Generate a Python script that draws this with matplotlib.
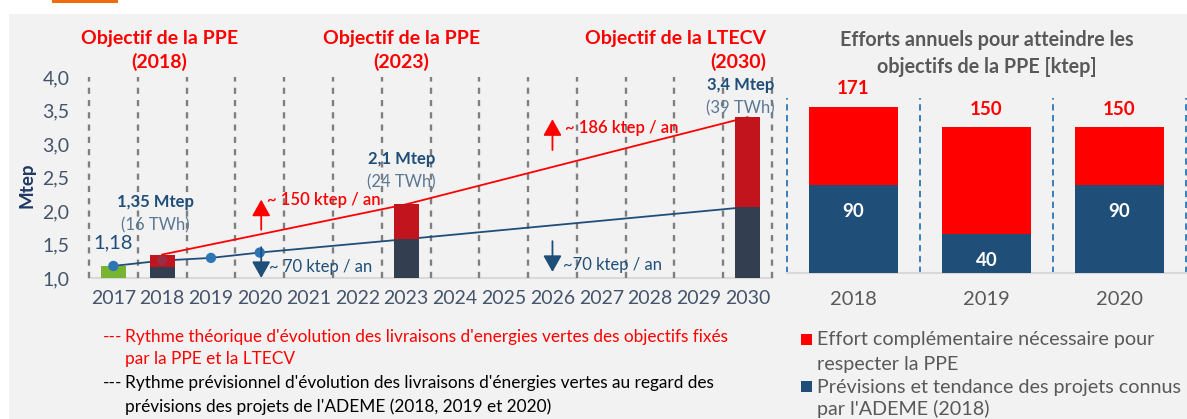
import matplotlib
matplotlib.use('Agg')
import matplotlib.pyplot as plt
from matplotlib.patches import Rectangle
import numpy as np

plt.rcParams['font.family'] = ['Lato', 'DejaVu Sans']

W, H = 1187, 419

# ---------------- Left chart data ----------------
years = list(range(2017, 2031))
year_labels = [str(y) for y in years]
y_ticks = [1.0, 1.5, 2.0, 2.5, 3.0, 3.5, 4.0]
y_tick_labels = ['1,0', '1,5', '2,0', '2,5', '3,0', '3,5', '4,0']

green_years = [2017]
green_tops = [1.18]
stack_years = [2018, 2023, 2030]
navy_tops = [1.16, 1.58, 2.06]
red_tops = [1.35, 2.10, 3.40]

ppe_years = [2018, 2023, 2030]
ppe_values = [1.35, 2.10, 3.40]
trend_years = [2017, 2018, 2019, 2020, 2023, 2030]
trend_values = [1.18, 1.26, 1.30, 1.38, 1.58, 2.06]
marker_years = [2017, 2018, 2019, 2020]
marker_values = [1.18, 1.26, 1.30, 1.38]

objective_titles = ['Objectif de la PPE', 'Objectif de la PPE', 'Objectif de la LTECV']
objective_years = ['(2018)', '(2023)', '(2030)']
mtep_labels = ['1,35 Mtep', '2,1 Mtep', '3,4 Mtep']
twh_labels = ['(16 TWh)', '(24 TWh)', '(39 TWh)']

# ---------------- Right chart data ----------------
effort_years = ['2018', '2019', '2020']
effort_known = [90, 40, 90]
effort_extra = [81, 110, 60]
effort_totals = [171, 150, 150]

# ---------------- Colors ----------------
RED = '#ff0000'
DARKRED = '#c1141d'
NAVY = '#333f50'
BLUE = '#1f4e79'
MBLUE = '#2e75b6'
GREEN = '#77b431'
TICK = '#44546a'
GRAY = '#595959'
LIGHTNAVY = '#5b7895'

fig = plt.figure(figsize=(W / 100, H / 100), dpi=100)
fig.patch.set_facecolor('white')

def fx(x):
    return x / W

def fy(y):
    return 1 - y / H

fig.patches.append(Rectangle((fx(9), 0), 1 - fx(9), fy(14), transform=fig.transFigure,
                             facecolor='#f2f2f2', edgecolor='none', zorder=-10))
fig.patches.append(Rectangle((fx(52), fy(3)), fx(66), 3 / H, transform=fig.transFigure,
                             facecolor='#f06b0c', edgecolor='none', zorder=-9))

# ---------------- Left axes ----------------
ax1 = fig.add_axes([fx(89), fy(278), fx(772 - 89), (278 - 77) / H])
ax1.set_facecolor('none')
ax1.set_xlim(2016.5, 2030.5)
ax1.set_ylim(1.0, 4.0)

for b in np.arange(2016.5, 2031, 1.0):
    ax1.axvline(b, color='#7f7f7f', lw=1.7, dashes=(2.6, 2.6), zorder=1, clip_on=False)

bw = 0.51
base = 1.0
ax1.bar(green_years, np.array(green_tops) - base, bottom=base, width=bw, color=GREEN, zorder=3)
ax1.bar(stack_years, np.array(navy_tops) - base, bottom=base, width=bw, color=NAVY, zorder=3)
ax1.bar(stack_years, np.array(red_tops) - np.array(navy_tops), bottom=navy_tops, width=bw,
        color=DARKRED, zorder=3)

ax1.plot(ppe_years, ppe_values, color=RED, lw=1.3, zorder=2)
ax1.plot(trend_years, trend_values, color=BLUE, lw=1.3, zorder=2)
ax1.scatter(marker_years, marker_values, s=55, color=MBLUE, zorder=4,
            alpha=[1, 0.25, 1, 1], linewidths=0)

for s in ['top', 'right', 'left']:
    ax1.spines[s].set_visible(False)
ax1.spines['bottom'].set_color('#d9d9d9')
ax1.spines['bottom'].set_linewidth(1.5)
ax1.spines['bottom'].set_zorder(0)

ax1.set_xticks(years, year_labels)
ax1.set_yticks(y_ticks, y_tick_labels)
ax1.tick_params(axis='x', length=0, pad=9, labelsize=14, labelcolor=TICK)
ax1.tick_params(axis='y', length=0, pad=14, labelsize=14, labelcolor=TICK)

fig.text(fx(27), fy(185), 'Mtep', rotation=90, ha='center', va='center',
         fontsize=13.5, fontweight='bold', color='#203864')

# objective titles
tx = [2017.94, 2022.9, 2030.38]
has = ['center', 'center', 'right']
for t, yr, x, ha in zip(objective_titles, objective_years, tx, has):
    ax1.text(x, 4.58, t, ha=ha, va='center', color=RED, fontsize=14, fontweight='bold', clip_on=False)
    ax1.text(x, 4.22, yr, ha=ha, va='center', color=RED, fontsize=14, fontweight='bold', clip_on=False)

# Mtep labels
mx = [2017.86, 2022.9, 2029.85]
my = [2.13, 2.78, 3.88]
for lab, twh, x, y in zip(mtep_labels, twh_labels, mx, my):
    ax1.text(x, y, lab, ha='center', va='center', color=BLUE, fontsize=12, fontweight='bold')
    ax1.text(x, y - 0.35, twh, ha='center', va='center', color=LIGHTNAVY, fontsize=12)

ax1.text(green_years[0], 1.52, '1,18', ha='center', va='center', color=BLUE, fontsize=14.5)

# arrows and rates
def arrow(x, y0, y1, color):
    ax1.annotate('', xy=(x, y1), xytext=(x, y0),
                 arrowprops=dict(arrowstyle='-|>,head_length=0.5,head_width=0.28',
                                 mutation_scale=20, color=color, lw=1.3,
                                 shrinkA=0, shrinkB=0), zorder=5)

arrow(2020.03, 1.72, 2.17, RED)
arrow(2026.0, 2.91, 3.37, RED)
arrow(2020.03, 1.46, 1.0, BLUE)
arrow(2026.0, 1.55, 1.09, BLUE)

ax1.text(2020.14, 2.16, '~ 150 ktep / an', ha='left', va='center', color=RED,
         fontsize=12, fontweight='semibold')
ax1.text(2026.25, 3.24, '~ 186 ktep / an', ha='left', va='center', color=RED,
         fontsize=12, fontweight='semibold')
ax1.text(2020.18, 1.16, '~ 70 ktep / an', ha='left', va='center', color=BLUE, fontsize=12)
ax1.text(2026.22, 1.19, '~70 ktep / an', ha='left', va='center', color=BLUE, fontsize=12)

# left legend text
LFS = 12.4
fig.text(fx(103), fy(337), '---', ha='left', va='center', color=RED, fontsize=LFS)
fig.text(fx(125), fy(337), "Rythme théorique d'évolution des livraisons d'energies vertes des objectifs fixés",
         ha='left', va='center', color=RED, fontsize=LFS)
fig.text(fx(125), fy(359), 'par la PPE et la LTECV', ha='left', va='center', color=RED, fontsize=LFS)
fig.text(fx(103), fy(383), '---', ha='left', va='center', color='black', fontsize=LFS)
fig.text(fx(125), fy(383), "Rythme prévisionnel d'évolution des livraisons d'énergies vertes au regard des",
         ha='left', va='center', color='black', fontsize=LFS)
fig.text(fx(125), fy(407), "prévisions des projets de l'ADEME (2018, 2019 et 2020)",
         ha='left', va='center', color='black', fontsize=LFS)

# ---------------- Right axes ----------------
ax2 = fig.add_axes([fx(787), fy(272.5), fx(399), (272.5 - 98) / H])
ax2.set_facecolor('none')
ax2.set_xlim(-0.5, 2.5)
ax2.set_ylim(0, 180)
xs = np.arange(len(effort_years))
for b in np.arange(-0.5, len(effort_years), 1.0):
    ax2.axvline(b, color=MBLUE, lw=1.3, dashes=(3.5, 2.5), zorder=1, clip_on=False)
ax2.bar(xs, effort_known, width=0.67, color=BLUE, zorder=3)
ax2.bar(xs, effort_extra, bottom=effort_known, width=0.67, color=RED, zorder=3)

for x, k, t in zip(xs, effort_known, effort_totals):
    ax2.annotate(str(t), (x, t), xytext=(0, 13), textcoords='offset points', ha='center',
                 va='center', color=RED, fontsize=13.5, fontweight='bold')
    ax2.annotate(str(k), (x, k), xytext=(0, -19), textcoords='offset points', ha='center',
                 va='center', color='white', fontsize=13.5, fontweight='bold', zorder=5)

for s in ['top', 'right', 'left']:
    ax2.spines[s].set_visible(False)
ax2.spines['bottom'].set_color('#d9d9d9')
ax2.spines['bottom'].set_linewidth(1.5)
ax2.set_yticks([])
ax2.set_xticks(xs, effort_years)
ax2.tick_params(axis='x', length=0, pad=13, labelsize=14.5, labelcolor=GRAY)

fig.text(fx(987), fy(40), 'Efforts annuels pour atteindre les', ha='center', va='center',
         color=GRAY, fontsize=14.2, fontweight='bold')
fig.text(fx(987), fy(67), 'objectifs de la PPE [ktep]', ha='center', va='center',
         color=GRAY, fontsize=14.2, fontweight='bold')

RFS = 14.2
fig.patches.append(Rectangle((fx(801), fy(345)), 11 / W, 11 / H, transform=fig.transFigure,
                             facecolor=RED, edgecolor='none'))
fig.patches.append(Rectangle((fx(801), fy(392)), 11 / W, 11 / H, transform=fig.transFigure,
                             facecolor=BLUE, edgecolor='none'))
fig.text(fx(817), fy(340), 'Effort complémentaire nécessaire pour', ha='left', va='center',
         color=GRAY, fontsize=RFS)
fig.text(fx(817), fy(364), 'respecter la PPE', ha='left', va='center', color=GRAY, fontsize=RFS)
fig.text(fx(817), fy(387), 'Prévisions et tendance des projets connus', ha='left', va='center',
         color=GRAY, fontsize=RFS)
fig.text(fx(817), fy(409), "par l'ADEME (2018)", ha='left', va='center', color=GRAY, fontsize=RFS)

fig.savefig('out.png', dpi=100, facecolor=fig.get_facecolor())
